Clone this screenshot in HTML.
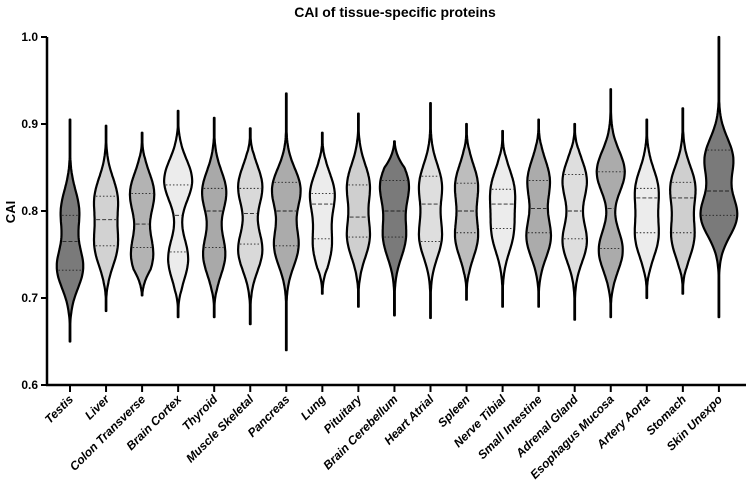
<!DOCTYPE html>
<html><head><meta charset="utf-8"><style>
body{margin:0;background:#fff}
svg{display:block;font-family:"Liberation Sans",Arial,sans-serif}
</style></head><body>
<svg id="c" width="746" height="494"></svg>
<script>
const categories=["Testis","Liver","Colon Transverse","Brain Cortex","Thyroid","Muscle Skeletal","Pancreas","Lung","Pituitary","Brain Cerebellum","Heart Atrial","Spleen","Nerve Tibial","Small Intestine","Adrenal Gland","Esophagus Mucosa","Artery Aorta","Stomach","Skin Unexpo"];
const mins=[0.65,0.685,0.703,0.678,0.678,0.670,0.640,0.705,0.690,0.680,0.677,0.698,0.690,0.690,0.675,0.678,0.700,0.705,0.678];
const maxs=[0.905,0.898,0.890,0.915,0.907,0.895,0.935,0.890,0.912,0.880,0.924,0.900,0.892,0.905,0.900,0.940,0.905,0.918,1.000];
const medians=[0.765,0.790,0.785,0.795,0.800,0.797,0.800,0.808,0.793,0.800,0.808,0.800,0.808,0.803,0.800,0.803,0.815,0.815,0.823];
const q1s=[0.732,0.760,0.758,0.753,0.758,0.762,0.760,0.768,0.770,0.770,0.765,0.775,0.780,0.775,0.768,0.757,0.775,0.775,0.795];
const q3s=[0.795,0.817,0.820,0.830,0.826,0.826,0.833,0.820,0.830,0.835,0.840,0.832,0.825,0.835,0.842,0.845,0.826,0.833,0.870];
const modeLo=[0.735,0.760,0.750,0.745,0.750,0.755,0.760,0.760,0.770,0.770,0.770,0.770,0.775,0.770,0.765,0.755,0.770,0.770,0.795];
const widthLo=[13,11,11,10,11,12,12,9,11,11,11,11,10,12,12,12,11,11,18];
const modeHi=[0.800,0.815,0.820,0.835,0.822,0.828,0.825,0.820,0.830,0.830,0.830,0.830,0.825,0.835,0.835,0.845,0.825,0.828,0.860];
const widthHi=[9,11,12,14,12,12,14,12,11,14,11,11,11,11,12,14,11,12,14];
const fills=["#7a7a7a","#d2d2d2","#b3b3b3","#ececec","#a9a9a9","#d9d9d9","#ababab","#ececec","#cfcfcf","#7a7a7a","#dedede","#bdbdbd","#ececec","#ababab","#dedede","#ababab","#ececec","#cfcfcf","#7a7a7a"];
const yTicks=[0.6,0.7,0.8,0.9,1.0];

const svg=document.getElementById('c');
const NS="http://www.w3.org/2000/svg";
const y=v=>385-(v-0.6)*870;
const x=i=>70+i*36.05;
function mk(t,a,p){const e=document.createElementNS(NS,t);for(const k in a)e.setAttribute(k,a[k]);(p||svg).appendChild(e);return e;}
function hw(i,v){
  const s=0.024;
  let w=widthLo[i]*Math.exp(-0.5*((v-modeLo[i])/s)**2)+widthHi[i]*Math.exp(-0.5*((v-modeHi[i])/s)**2);
  const d=Math.min(v-mins[i],maxs[i]-v);
  w*=Math.pow(Math.min(1,Math.max(0,d)/0.03),0.8);
  return Math.max(w,0.3);
}
let t=mk('text',{x:395,y:17,'text-anchor':'middle','font-size':14,'font-weight':'bold'});
t.textContent="CAI of tissue-specific proteins";


t=mk('text',{transform:'translate(15,212) rotate(-90)','text-anchor':'middle','font-size':13,'font-weight':'bold'});
t.textContent="CAI";



categories.forEach((c,i)=>{
  const g=mk('g',{});
  
  
  const cx=x(i),N=100;let L=[],R=[];
  for(let k=0;k<=N;k++){const v=mins[i]+(maxs[i]-mins[i])*k/N;const w=hw(i,v);L.push([cx-w,y(v)]);R.push([cx+w,y(v)]);}
  const pts=R.concat(L.reverse()).map(p=>p[0].toFixed(1)+','+p[1].toFixed(1)).join(' ');
  mk('polygon',{points:pts,fill:fills[i],stroke:'#000','stroke-width':2.2,'stroke-linejoin':'round'},g);
  [[medians[i],'4,2'],[q1s[i],'1.5,2'],[q3s[i],'1.5,2']].forEach(([v,d])=>{
    const w=hw(i,v)-1.5;
    mk('line',{x1:cx-w,x2:cx+w,y1:y(v),y2:y(v),stroke:'#222','stroke-width':0.9,'stroke-dasharray':d},g);
  });
  mk('line',{x1:cx,x2:cx,y1:385,y2:392,stroke:'#000','stroke-width':2});
  const lb=mk('text',{transform:`translate(${cx+4},${400}) rotate(-45)`,'text-anchor':'end','font-size':12,'font-weight':'bold','font-style':'italic'});
  lb.textContent=c;
  
  
});
const ax=mk('g',{});


mk('line',{x1:47,x2:47,y1:37,y2:386,stroke:'#000','stroke-width':2.5},ax);
mk('line',{x1:46,x2:746,y1:385,y2:385,stroke:'#000','stroke-width':2.5},ax);
yTicks.forEach(v=>{
  mk('line',{x1:41,x2:47,y1:y(v),y2:y(v),stroke:'#000','stroke-width':2},ax);
  const tl=mk('text',{x:38,y:y(v)+4,'text-anchor':'end','font-size':12,'font-weight':'bold'},ax);
  tl.textContent=v.toFixed(1);
  
  
});
</script>
</body></html>
